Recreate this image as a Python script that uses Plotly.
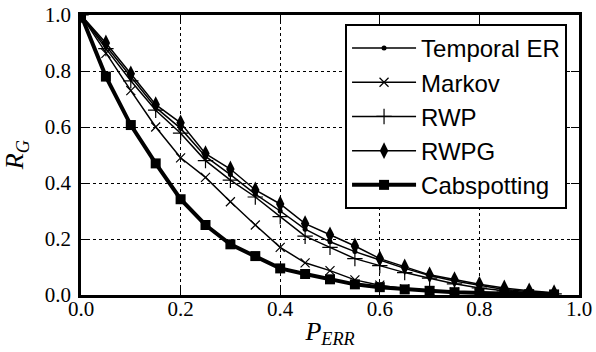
import plotly.graph_objects as go

p_err = [0.0, 0.05, 0.10, 0.15, 0.20, 0.25, 0.30, 0.35, 0.40, 0.45,
         0.50, 0.55, 0.60, 0.65, 0.70, 0.75, 0.80, 0.85, 0.90, 0.95]

temporal_er = [1.0, 0.89, 0.78, 0.67, 0.595, 0.495, 0.43, 0.36, 0.30, 0.235,
               0.19, 0.155, 0.125, 0.095, 0.07, 0.05, 0.035, 0.02, 0.012, 0.006]
markov = [1.0, 0.863, 0.73, 0.60, 0.49, 0.42, 0.333, 0.25, 0.17, 0.115,
          0.087, 0.054, 0.035, 0.022, 0.015, 0.01, 0.006, 0.004, 0.002, 0.001]
rwp = [1.0, 0.88, 0.765, 0.66, 0.578, 0.48, 0.41, 0.35, 0.28, 0.21,
       0.17, 0.13, 0.105, 0.08, 0.06, 0.04, 0.025, 0.015, 0.008, 0.004]
rwpg = [1.0, 0.90, 0.79, 0.68, 0.615, 0.505, 0.45, 0.375, 0.325, 0.255,
        0.215, 0.175, 0.13, 0.10, 0.072, 0.055, 0.038, 0.025, 0.015, 0.008]
cabspotting = [1.0, 0.78, 0.607, 0.47, 0.342, 0.25, 0.181, 0.139, 0.095, 0.075,
               0.056, 0.038, 0.028, 0.02, 0.015, 0.01, 0.007, 0.005, 0.003, 0.002]

series = [
    ("Temporal ER", temporal_er, dict(symbol="circle", size=5, color="black"), 1.5),
    ("Markov", markov, dict(symbol="x-thin-open", size=9, color="black", line=dict(width=1.2, color="black")), 1.5),
    ("RWP", rwp, dict(symbol="cross-thin-open", size=11, color="black", line=dict(width=1.2, color="black")), 1.5),
    ("RWPG", rwpg, dict(symbol="diamond-tall", size=12, color="black"), 1.5),
    ("Cabspotting", cabspotting, dict(symbol="square", size=10, color="black"), 4),
]

fig = go.Figure()
for name, ys, marker, lw in series:
    fig.add_trace(go.Scatter(
        x=p_err, y=ys, name=name, mode="lines+markers",
        line=dict(color="black", width=lw), marker=marker,
        legendgroup=name,
    ))

tickfont = dict(family="'Liberation Serif', 'DejaVu Serif', serif", size=21, color="black")
axis_common = dict(
    showline=True, linecolor="black", linewidth=2.5, mirror="allticks",
    ticks="inside", ticklen=8, tickwidth=1, tickcolor="black",
    showgrid=True, gridcolor="black", gridwidth=1, griddash="dot",
    zeroline=False, tickfont=tickfont, dtick=0.2, tickformat=".1f",
    automargin=False,
)

fig.update_layout(
    width=596, height=352,
    margin=dict(l=81, r=17, t=15, b=57),
    paper_bgcolor="white", plot_bgcolor="white",
    xaxis=dict(range=[0, 1], title=dict(text="<i>P</i><sub><i>ERR</i></sub>",
               font=dict(family="'Liberation Serif', serif", size=26, color="black"), standoff=2),
               ticklabelstandoff=-7, **axis_common),
    yaxis=dict(range=[0, 1], ticklabelstandoff=3, **axis_common),
    legend=dict(x=0.976, y=0.968, xanchor="right", yanchor="top",
                bgcolor="white", bordercolor="black", borderwidth=2,
                font=dict(family="'Liberation Sans', Arial, sans-serif", size=24, color="black"),
                tracegroupgap=0, itemwidth=64),
    showlegend=True,
    annotations=[dict(
        text="<i>R</i><sub><i>G</i></sub>", textangle=-90,
        xref="paper", yref="paper", x=-0.13, y=0.5,
        xanchor="center", yanchor="middle", showarrow=False,
        font=dict(family="'Liberation Serif', serif", size=26, color="black"),
    )],
)

fig.write_html("out.html")
